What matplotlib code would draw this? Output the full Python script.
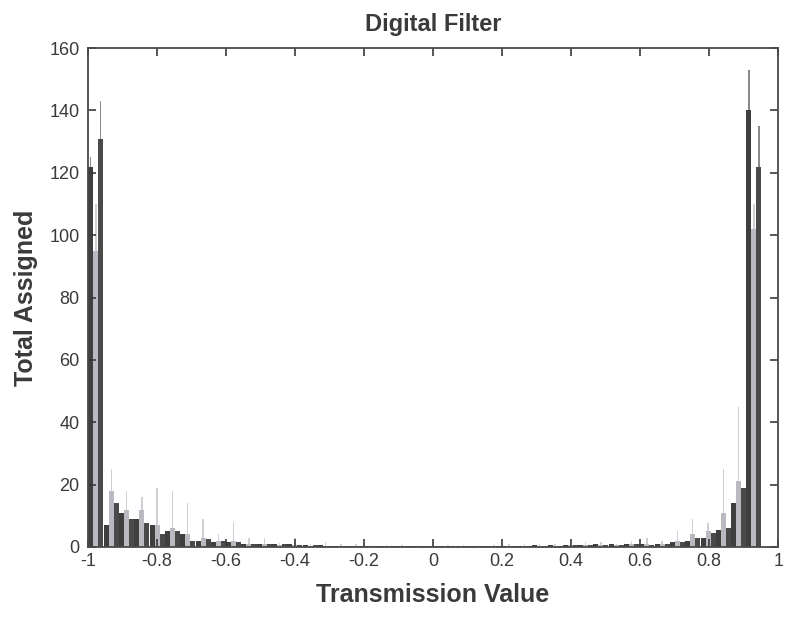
import numpy as np
import matplotlib.pyplot as plt

plt.rcParams['font.family'] = ['Liberation Sans', 'DejaVu Sans']

# bin centres of the histogram (44 bins)
centers = np.linspace(-0.977, 0.930, 44)

# three grouped series per bin: dark (left), light (middle), dark (right)
dark_a = [122, 7, 11, 9, 7, 5, 4, 2, 1.6, 1.5, 1, 1, 0.8, 0.8, 0.5, 0.6, 0.4, 0.3, 0.3, 0.2, 0.2, 0.2,
          0.2, 0.2, 0.2, 0.3, 0.3, 0.3, 0.4, 0.5, 0.5, 0.6, 0.6, 0.8, 0.8, 1, 1, 1, 1.5, 2, 3, 5.5, 14, 140]
light = [95, 18, 12, 12, 7, 6, 4, 3, 2, 2, 1, 1, 0.5, 0.5, 0.4, 0.4, 0.3, 0.3, 0.2, 0.2, 0.2, 0.2,
         0.2, 0.2, 0.2, 0.2, 0.3, 0.3, 0.3, 0.4, 0.4, 0.5, 0.5, 0.6, 0.6, 0.8, 1, 1, 2, 4, 5, 11, 21, 102]
dark_b = [131, 14, 9, 7.7, 4, 5, 2, 2.5, 2, 1.5, 1, 0.8, 0.8, 0.6, 0.5, 0.4, 0.3, 0.3, 0.2, 0.2, 0.2, 0.2,
          0.2, 0.2, 0.2, 0.2, 0.3, 0.3, 0.3, 0.4, 0.4, 0.5, 0.5, 0.6, 0.6, 0.8, 0.5, 1, 1.5, 3, 4.5, 6, 19, 122]

# thin peaks sticking out above the bars
light_peak = [110, 25, 18, 16, 19, 18, 14, 9, 4, 8, 3, 3, 1.3, 3, 1, 1.5, 0.8, 1, 0.6, 0.5, 0.5, 0.5,
              0.5, 0.5, 0.5, 0.6, 0.6, 0.8, 0.8, 1, 1, 1.2, 1.5, 1.5, 1, 2, 3, 2, 5, 9, 7.7, 25, 45, 110]
dark_a_peak = [125, 0, 0, 0, 0, 0, 0, 0, 0, 0, 0, 0, 0, 0, 0, 0, 0, 0, 0, 0, 0, 0,
               0, 0, 0, 0, 0, 0, 0, 0, 0, 0, 0, 0, 0, 0, 0, 0, 0, 0, 0, 0, 0, 153]
dark_b_peak = [143, 0, 0, 0, 0, 0, 0, 0, 0, 0, 0, 0, 0, 0, 0, 0, 0, 0, 0, 0, 0, 0,
               0, 0, 0, 0, 0, 0, 0, 0, 0, 0, 0, 0, 0, 0, 0, 0, 0, 0, 0, 0, 0, 135]

xticks = [-1, -0.8, -0.6, -0.4, -0.2, 0, 0.2, 0.4, 0.6, 0.8, 1]
xticklabels = ['-1', '-0.8', '-0.6', '-0.4', '-0.2', '0', '0.2', '0.4', '0.6', '0.8', '1']
yticks = [0, 20, 40, 60, 80, 100, 120, 140, 160]

w = 0.0145
fig = plt.figure(figsize=(7.86, 6.17), dpi=100)
ax = fig.add_axes([0.112, 0.1135, 0.878, 0.8085])

# peaks first, bars on top
ax.bar(centers - w, dark_a_peak, width=0.003, color='#8a8a8a', linewidth=0)
ax.bar(centers, light_peak, width=0.004, color='#cfcfd6', linewidth=0)
ax.bar(centers + w, dark_b_peak, width=0.003, color='#8a8a8a', linewidth=0)

ax.bar(centers - w, dark_a, width=w, color='#3f3f3f', linewidth=0)
ax.bar(centers, light, width=w, color='#b9b9c2', linewidth=0)
ax.bar(centers + w, dark_b, width=w, color='#4a4a4a', linewidth=0)

ax.set_xlim(-1, 1)
ax.set_ylim(0, 160)
ax.set_xticks(xticks)
ax.set_xticklabels(xticklabels)
ax.set_yticks(yticks)
ax.tick_params(direction='in', top=True, right=True, length=6, width=1.2,
               labelsize=13, colors='#3a3a3a')
ax.tick_params(axis='y', pad=6)
ax.tick_params(axis='x', pad=4)
for s in ax.spines.values():
    s.set_color('#4a4a4a')
    s.set_linewidth(1.3)

ax.set_title('Digital Filter', fontsize=17, fontweight='bold', color='#3a3a3a', pad=12)
ax.set_xlabel('Transmission Value', fontsize=18, fontweight='bold', color='#3a3a3a', labelpad=10)
ax.set_ylabel('Total Assigned', fontsize=18, fontweight='bold', color='#3a3a3a', labelpad=8)

fig.savefig('out.png', dpi=100)
